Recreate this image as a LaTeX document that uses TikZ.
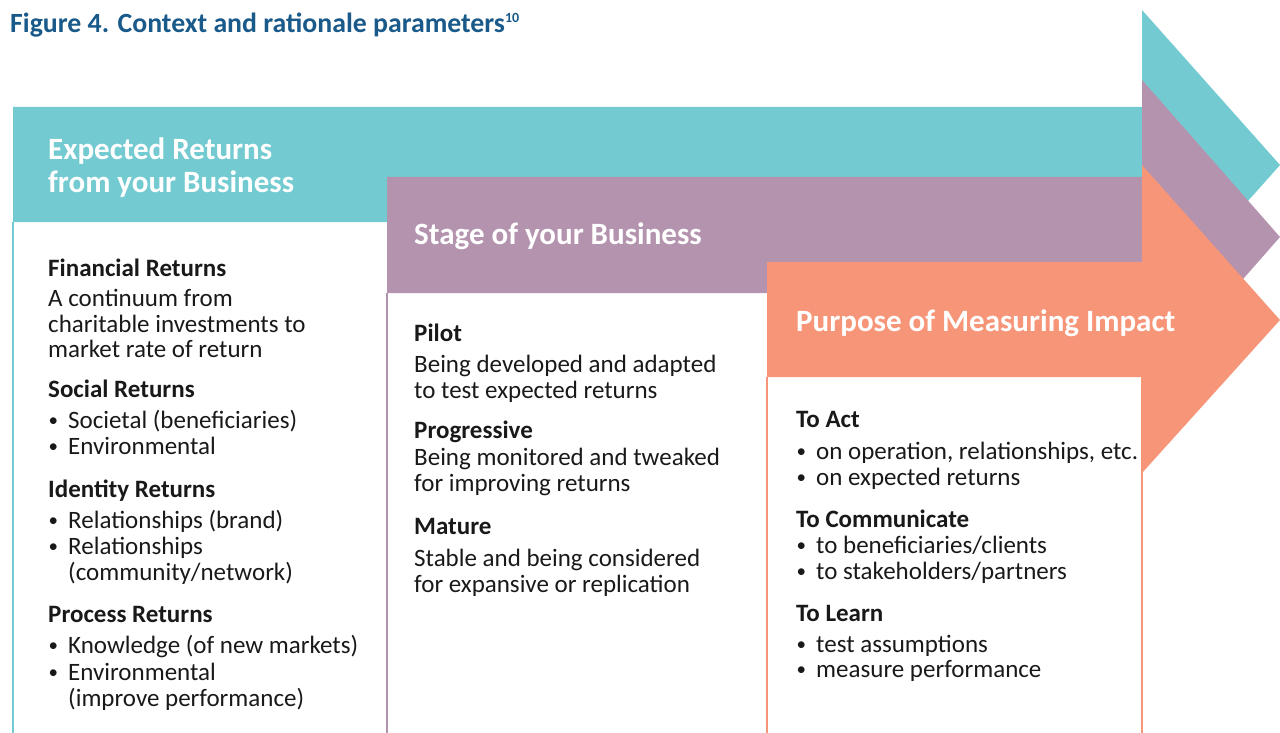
\documentclass[tikz,border=0pt]{standalone}
\usepackage{fontspec}
\setmainfont{Carlito}
\definecolor{retcol}{HTML}{73CBD1}
\definecolor{stagecol}{HTML}{B493AE}
\definecolor{purposecol}{HTML}{F69577}
\definecolor{titleblue}{HTML}{1A5A8A}
\newcommand{\colhead}[1]{\textbf{#1}}
\newcommand{\coltext}[1]{#1}
\newcommand{\colitem}[1]{\makebox[20pt][l]{\hspace*{0.5pt}\raisebox{1.5pt}{\fontsize{19}{19}\selectfont\textbullet}}#1}
\newcommand{\colcont}[1]{\hspace*{20pt}#1}

\begin{document}
\begin{tikzpicture}[x=1pt, y=-1pt,
    hdtext/.style={font=\fontsize{31}{33}\selectfont\bfseries, text=white, anchor=base west, inner sep=0pt},
    bodytext/.style={font=\fontsize{25}{26}\selectfont, text=black!90, anchor=base west, inner sep=0pt},
    colline/.style={line width=2pt}]
  \useasboundingbox (0,0) rectangle (1280,733);
  % title
  \node[anchor=base west, inner sep=0pt, font=\fontsize{27.8}{30}\selectfont\bfseries, text=titleblue] (title) at (10,33) {Figure 4. Context and rationale parameters\raisebox{10pt}{\fontsize{14}{14}\selectfont 10}};
  % column outlines
  \draw[colline, retcol] (13,222) -- (13,733);
  \draw[colline, stagecol] (387,293) -- (387,733);
  \draw[colline, purposecol] (767,377) -- (767,733);
  \draw[colline, purposecol] (1142,377) -- (1142,733);
  % arrows
  \fill[retcol] (13,107) -- (1142,107) -- (1142,10) -- (1280,165) -- (1142,320) -- (1142,222) -- (13,222) -- cycle;
  \fill[stagecol] (387,177) -- (1142,177) -- (1142,80) -- (1280,237) -- (1142,394) -- (1142,293) -- (387,293) -- cycle;
  \fill[purposecol] (767,262) -- (1142,262) -- (1142,165) -- (1280,320) -- (1142,473) -- (1142,377) -- (767,377) -- cycle;
  % headers
  \node[hdtext] (rethd1) at (48,160) {Expected Returns};
  \node[hdtext] (rethd2) at (48,193) {from your Business};
  \node[hdtext] (stagehd) at (414,244) {Stage of your Business};
  \node[hdtext] (purposehd) at (796,331) {Purpose of Measuring Impact};
  % column 1
  \foreach \y/\s/\t [count=\i] in {276/\colhead/{Financial Returns}, 306/\coltext/{A continuum from},
      332/\coltext/{charitable investments to}, 357/\coltext/{market rate of return},
      397/\colhead/{Social Returns}, 428/\colitem/{Societal (beneficiaries)}, 454/\colitem/{Environmental},
      497/\colhead/{Identity Returns}, 528/\colitem/{Relationships (brand)}, 554/\colitem/{Relationships},
      580/\colcont/{(community/network)}, 622/\colhead/{Process Returns},
      653/\colitem/{Knowledge (of new markets)}, 680/\colitem/{Environmental}, 706/\colcont/{(improve performance)}}
    \node[bodytext] (ret\i) at (48,\y) {\s{\t}};
  % column 2
  \foreach \y/\s/\t [count=\i] in {341/\colhead/{Pilot}, 372/\coltext/{Being developed and adapted},
      398/\coltext/{to test expected returns}, 438/\colhead/{Progressive},
      465/\coltext/{Being monitored and tweaked}, 491/\coltext/{for improving returns},
      534/\colhead/{Mature}, 566/\coltext/{Stable and being considered}, 592/\coltext/{for expansive or replication}}
    \node[bodytext] (stage\i) at (414,\y) {\s{\t}};
  % column 3
  \foreach \y/\s/\t [count=\i] in {427/\colhead/{To Act}, 459/\colitem/{on operation, relationships, etc.},
      485/\colitem/{on expected returns}, 527/\colhead/{To Communicate}, 553/\colitem/{to beneficiaries/clients},
      579/\colitem/{to stakeholders/partners}, 621/\colhead/{To Learn}, 652/\colitem/{test assumptions},
      677/\colitem/{measure performance}}
    \node[bodytext] (purpose\i) at (796,\y) {\s{\t}};
\end{tikzpicture}
\end{document}
